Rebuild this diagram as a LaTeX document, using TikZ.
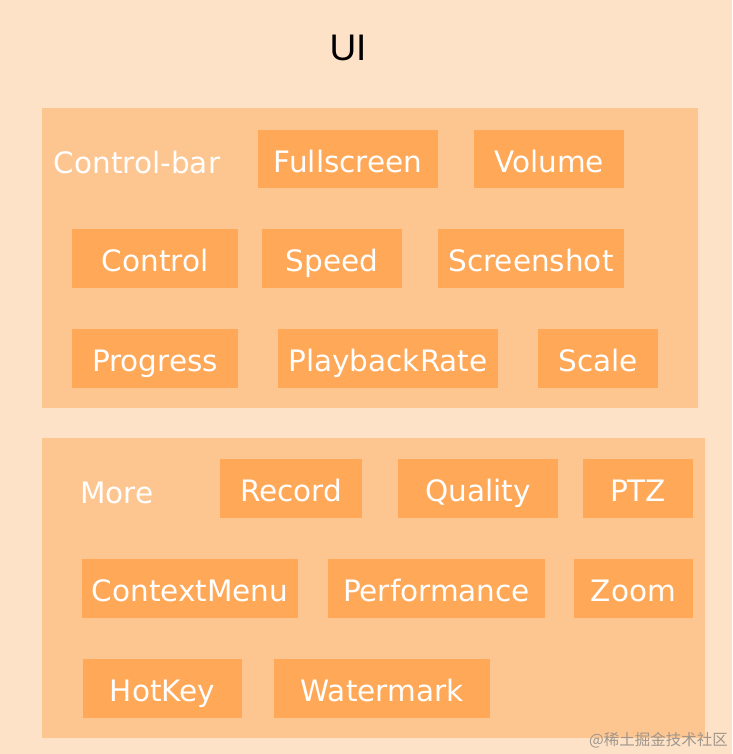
\documentclass[tikz,border=0pt]{standalone}
\usepackage{fontspec}
\setmainfont{DejaVu Sans}
\newfontfamily\titlefont{Liberation Sans}
\newfontfamily\cjkfont{Noto Sans CJK SC}
\definecolor{bgc}{RGB}{253,226,199}
\definecolor{contc}{RGB}{253,197,144}
\definecolor{boxc}{RGB}{254,168,88}
\definecolor{wmc}{RGB}{160,150,140}
\tikzset{
  boxnode/.style={fill=boxc, text=white, inner sep=0pt, anchor=center,
    text height=26pt, text depth=0pt,
    font=\fontsize{29.5}{34}\selectfont},
  labelnode/.style={text=white, inner sep=0pt, anchor=center,
    text height=26pt, text depth=0pt,
    font=\fontsize{29.5}{34}\selectfont},
  contnode/.style={fill=contc, draw=none}
}
\begin{document}
\begin{tikzpicture}[x=1pt,y=-1pt]
\fill[bgc] (0,0) rectangle (732,754);
\useasboundingbox (0,0) rectangle (732,754);
\node[inner sep=0pt, font=\titlefont\fontsize{37}{40}\selectfont] (title) at (348,48) {UI};
% containers
\fill[contc] (42,108) rectangle (698,408);
\fill[contc] (42,438) rectangle (705,738);
% control bar
\node[labelnode] (cbar) at (137,161) {Control-bar};
\node[boxnode, minimum width=180, minimum height=58] (fullscreen) at (348,159) {Fullscreen};
\node[boxnode, minimum width=150, minimum height=58] (volume) at (549,159) {Volume};
\node[boxnode, minimum width=166, minimum height=59] (control) at (155,258.5) {Control};
\node[boxnode, minimum width=140, minimum height=59] (speed) at (332,258.5) {Speed};
\node[boxnode, minimum width=186, minimum height=59] (screenshot) at (531,258.5) {Screenshot};
\node[boxnode, minimum width=166, minimum height=59] (progress) at (155,358.5) {Progress};
\node[boxnode, minimum width=220, minimum height=59] (playbackrate) at (388,358.5) {PlaybackRate};
\node[boxnode, minimum width=120, minimum height=59] (scale) at (598,358.5) {Scale};
% more
\node[labelnode] (more) at (117,490) {More};
\node[boxnode, minimum width=142, minimum height=59] (record) at (291,488.5) {Record};
\node[boxnode, minimum width=160, minimum height=59] (quality) at (478,488.5) {Quality};
\node[boxnode, minimum width=110, minimum height=59] (ptz) at (638,488.5) {PTZ};
\node[boxnode, minimum width=216, minimum height=59] (contextmenu) at (190,588.5) {ContextMenu};
\node[boxnode, minimum width=217, minimum height=59] (performance) at (436.5,588.5) {Performance};
\node[boxnode, minimum width=119, minimum height=59] (zoom) at (633.5,588.5) {Zoom};
\node[boxnode, minimum width=159, minimum height=59] (hotkey) at (162.5,688.5) {HotKey};
\node[boxnode, minimum width=216, minimum height=59] (watermark) at (382,688.5) {Watermark};
% watermark text
\node[inner sep=0pt, text=wmc, anchor=east, font=\cjkfont\fontsize{15.5}{18}\selectfont] (wm) at (728,740) {@稀土掘金技术社区};
\end{tikzpicture}
\end{document}
